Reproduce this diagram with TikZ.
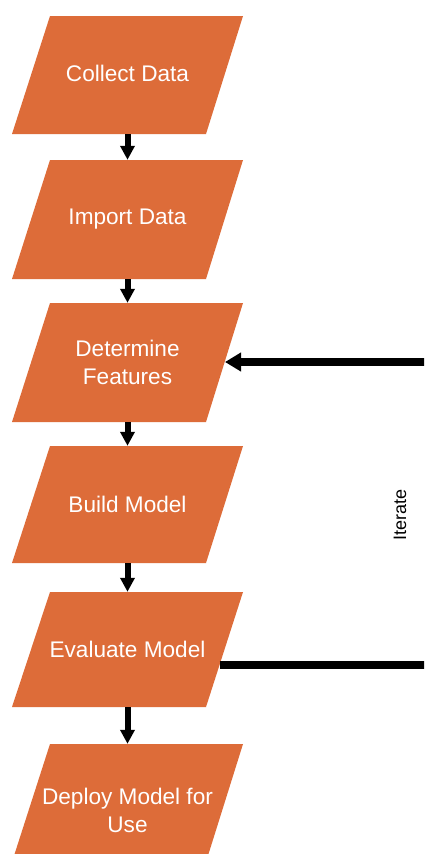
\documentclass[tikz,border=0pt]{standalone}
\usepackage{fontspec}
\setmainfont{Liberation Sans}
\usetikzlibrary{arrows.meta,calc}

\definecolor{stagefill}{RGB}{221,108,57}

\tikzset{
  stagetext/.style={rectangle, inner sep=0pt, minimum width=193pt,
    text=white, align=center, font=\fontsize{22.6}{28}\selectfont},
  flowarrow/.style={draw=black, line width=6pt,
    -{Triangle[width=14pt,length=14pt]}},
  looparrow/.style={draw=black, line width=8pt, line join=miter,
    -{Triangle[width=18pt,length=16pt]}},
  sidelabel/.style={rotate=90, inner sep=0pt, font=\fontsize{18}{21}\selectfont}
}

% parallelogram stage: name, top, bottom, text shift, text
\newcommand\stagebox[5]{%
  \fill[stagefill] (12,#3) -- (206,#3) -- (243,#2) -- (50,#2) -- cycle;
  \node[stagetext, minimum height={(#3-#2)*1pt}, yshift=#4] (#1)
    at (127.5,{(#2+#3)/2}) {#5};
}

\begin{document}
\begin{tikzpicture}[x=1pt,y=-1pt]
  \clip (0,0) rectangle (424,854);
  \fill[white] (0,0) rectangle (424,854);

  \stagebox{collect}{16}{134}{2pt}{Collect Data}
  \stagebox{import}{160}{279}{0pt}{Import Data}
  \stagebox{features}{303}{422}{0pt}{Determine\\Features}
  \stagebox{build}{446}{563}{0pt}{Build Model}
  \stagebox{evaluate}{592}{707}{0pt}{Evaluate Model}
  \stagebox{deploy}{744}{862}{-7pt}{Deploy Model for\\Use}

  \draw[flowarrow] (collect.south) ++(0,2) -- (import.north);
  \draw[flowarrow] (import.south) -- (features.north);
  \draw[flowarrow] (features.south) -- (build.north);
  \draw[flowarrow] (build.south) -- (evaluate.north);
  \draw[flowarrow] (evaluate.south) -- ($(deploy.north)+(0,-7)$);

  % feedback loop from evaluation back to feature selection
  \coordinate (loopstart) at (219.5,665);
  \coordinate (loopend) at (225,362);
  \coordinate (loopright) at (440,665);
  \coordinate (looptop) at (440,362);
  \draw[looparrow] (loopstart) -- (loopright) -- (looptop) -- (loopend);

  \node[sidelabel] (iterate) at (400,515) {Iterate};
\end{tikzpicture}
\end{document}
